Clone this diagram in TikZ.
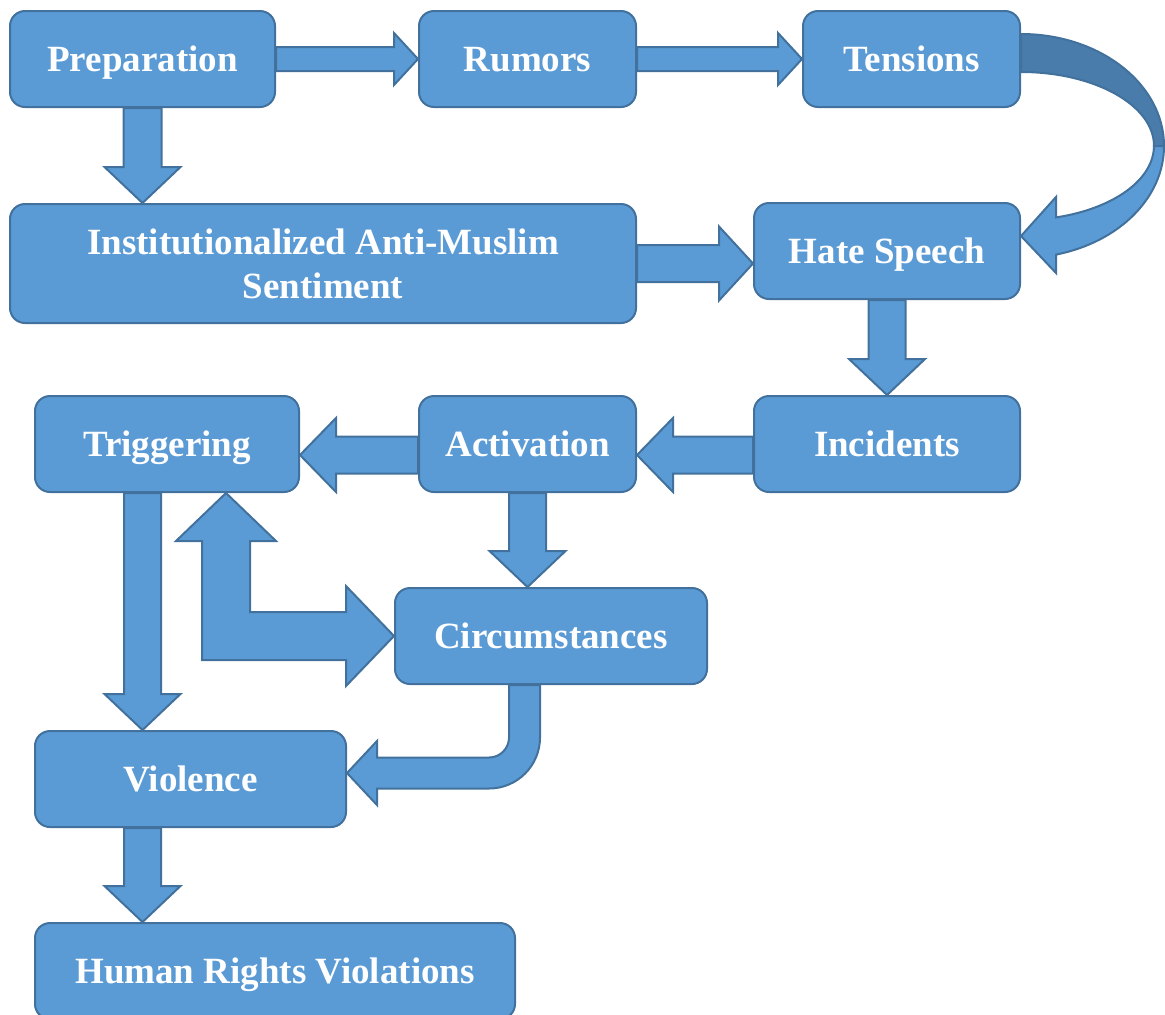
\documentclass[tikz,border=0pt]{standalone}
\usepackage{fontspec}
\setmainfont{Liberation Serif}
\usetikzlibrary{calc}
\definecolor{stagefill}{HTML}{5B9BD5}
\definecolor{stageline}{HTML}{41719C}
\definecolor{stagefold}{HTML}{497CAA}

\begin{document}
\begin{tikzpicture}[
  x=.5pt,
  y=-.5pt,
  stage/.style={
    draw=stageline,
    fill=stagefill,
    line width=1pt,
    rounded corners=7.5pt,
    minimum height=48pt,
    inner sep=0pt,
    align=center,
    text=white,
    font=\bfseries\fontsize{18.5}{22}\selectfont
  },
  one line/.style={
    text height=12.5pt,
    text depth=0pt
  },
  flow/.style={
    draw=stageline,
    fill=stagefill,
    line width=1pt,
    line join=miter
  },
  flow back/.style={
    flow,
    fill=stagefold
  },
  % shaft half width, head half width, head length
  go right/.style n args={3}{
    to path={let \p1=(\tikztostart), \p2=(\tikztotarget) in
      (\x1,\y1+#1) -- (\x2-#3,\y1+#1) -- (\x2-#3,\y1+#2) -- (\x2,\y1)
      -- (\x2-#3,\y1-#2) -- (\x2-#3,\y1-#1) -- (\x1,\y1-#1) -- cycle}
  },
  go left/.style n args={3}{
    to path={let \p1=(\tikztostart), \p2=(\tikztotarget) in
      (\x1,\y1+#1) -- (\x2+#3,\y1+#1) -- (\x2+#3,\y1+#2) -- (\x2,\y1)
      -- (\x2+#3,\y1-#2) -- (\x2+#3,\y1-#1) -- (\x1,\y1-#1) -- cycle}
  },
  go down/.style n args={3}{
    to path={let \p1=(\tikztostart), \p2=(\tikztotarget) in
      (\x1-#1,\y1) -- (\x1-#1,\y2+#3) -- (\x1-#2,\y2+#3) -- (\x1,\y2)
      -- (\x1+#2,\y2+#3) -- (\x1+#1,\y2+#3) -- (\x1+#1,\y1) -- cycle}
  },
]
\useasboundingbox (0,0) rectangle (1165,1014);
\clip (0,0) rectangle (1165,1014);

% stages
\node[stage, one line, minimum width=132.5pt] (prep) at (142.5,59) {Preparation};
\node[stage, one line, minimum width=108.5pt] (rumors) at (527.5,59) {Rumors};
\node[stage, one line, minimum width=108.5pt] (tens) at (911.5,59) {Tensions};
\node[stage, minimum width=313pt, minimum height=59.5pt] (inst) at (323,263.5)
  {Institutionalized Anti-Muslim\\Sentiment};
\node[stage, one line, minimum width=133pt] (hate) at (887,251) {Hate Speech};
\node[stage, one line, minimum width=132pt] (trig) at (167,444) {Triggering};
\node[stage, one line, minimum width=108.5pt] (activ) at (527.5,444) {Activation};
\node[stage, one line, minimum width=133pt] (incid) at (887,444) {Incidents};
\node[stage, one line, minimum width=156pt] (circ) at (551,636) {Circumstances};
\node[stage, one line, minimum width=155.5pt] (viol) at (190.5,779) {Violence};
\node[stage, one line, minimum width=240pt] (hrv) at (275,971) {Human Rights Violations};

% straight block arrows
\draw[flow] (prep.east) to[go right={6pt}{13pt}{12pt}] (rumors.west);
\draw[flow] (rumors.east) to[go right={6pt}{13pt}{12pt}] (tens.west);
\draw[flow] (prep.south) to[go down={9.5pt}{19pt}{18pt}] (inst.north);
\draw[flow] (inst.east) to[go right={9.25pt}{18.5pt}{17pt}] (hate.west);
\draw[flow] (hate.south) to[go down={9.25pt}{19pt}{18pt}] (incid.north);
\draw[flow] ([yshift=-5.5pt]incid.west) to[go left={9.25pt}{18.5pt}{18pt}] (activ.east);
\draw[flow] ([yshift=-5.5pt]activ.west) to[go left={9.25pt}{18.5pt}{18pt}] (trig.east);
\draw[flow] (activ.south) to[go down={9.25pt}{19pt}{18pt}] (circ.north);
\draw[flow] (trig.south -| prep) to[go down={9.25pt}{19pt}{18pt}] (viol.north);
\draw[flow] (viol.south -| prep) to[go down={9.25pt}{19pt}{18pt}] (hrv.north);

% loop from tensions down to hate speech
\coordinate (loopc) at ([yshift=-43.5pt]tens.east);
\coordinate (looptip) at ([yshift=-45pt]loopc);
\draw[flow back] ([yshift=56pt]loopc)
  arc[start angle=90, end angle=0, x radius=71.5pt, y radius=56pt]
  -- ([xshift=66.5pt]loopc)
  arc[start angle=0, end angle=90, x radius=66.5pt, y radius=37pt] -- cycle;
\draw[flow] ([xshift=71.5pt]loopc)
  arc[start angle=0, end angle=-75.8, x radius=71.5pt, y radius=56pt]
  -- ([xshift=17.5pt,yshift=-63.5pt]loopc) -- (hate.east |- looptip)
  -- ([xshift=17.5pt,yshift=-25.5pt]loopc) -- ([xshift=17.5pt,yshift=-35.7pt]loopc)
  arc[start angle=-74.7, end angle=0, x radius=66.5pt, y radius=37pt] -- cycle;

% two-headed bent arrow between triggering and circumstances
\draw[flow] let \p1=(circ.west), \p2=([xshift=29.5pt]trig.south) in
  (\x2,\y2) -- (\x2+25pt,\y2-24pt) -- (\x2+12pt,\y2-24pt) -- (\x2+12pt,\y1+12pt)
  -- (\x1-24pt,\y1+12pt) -- (\x1-24pt,\y1+25pt) -- (\x1,\y1) -- (\x1-24pt,\y1-25pt)
  -- (\x1-24pt,\y1-12pt) -- (\x2-12pt,\y1-12pt) -- (\x2-12pt,\y2-24pt)
  -- (\x2-25pt,\y2-24pt) -- cycle;

% bent arrow from circumstances to violence
\draw[flow] let \p1=([xshift=-13.25pt]circ.south), \p2=([yshift=3pt]viol.east) in
  (\x1-7.75pt,\y1) -- (\x1-7.75pt,\y2+17.75pt)
  arc[start angle=0, end angle=-90, radius=10pt]
  -- (\x2+15pt,\y2+7.75pt) -- (\x2+15pt,\y2+16pt) -- (\x2,\y2)
  -- (\x2+15pt,\y2-16pt) -- (\x2+15pt,\y2-7.75pt) -- (\x1-17.75pt,\y2-7.75pt)
  arc[start angle=-90, end angle=0, radius=25.5pt]
  -- (\x1+7.75pt,\y1) -- cycle;
\end{tikzpicture}
\end{document}
